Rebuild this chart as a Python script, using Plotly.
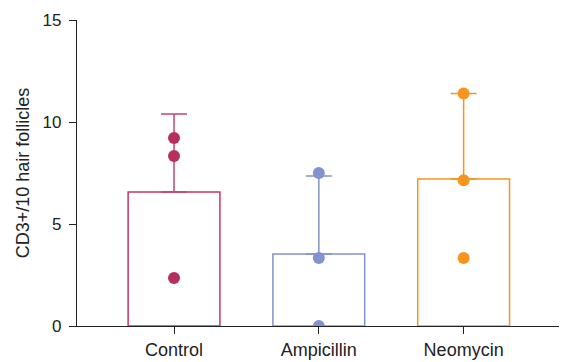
import plotly.graph_objects as go

categories = ["Control", "Ampicillin", "Neomycin"]
bar_means = [6.57, 3.53, 7.2]
bar_sd = [3.82, 3.82, 4.2]
points = [
    [9.22, 8.33, 2.35],
    [7.5, 3.33, 0.0],
    [11.4, 7.15, 3.33],
]
line_colors = ["#c8336a", "#8391cc", "#f7941d"]
err_colors = ["#c4466f", "#8391cc", "#f7941d"]
point_colors = ["#b5305a", "#8391cc", "#f7941d"]
y_ticks = [0, 5, 10, 15]

fig = go.Figure()
for i, cat in enumerate(categories):
    fig.add_trace(go.Bar(
        x=[cat], y=[bar_means[i]], width=0.634,
        marker=dict(color="rgba(0,0,0,0)", line=dict(color=line_colors[i], width=1.5)),
        error_y=dict(type="data", symmetric=False, array=[bar_sd[i]], arrayminus=[0],
                     color=err_colors[i], thickness=1.5, width=13),
        showlegend=False,
    ))
for i, cat in enumerate(categories):
    fig.add_trace(go.Scatter(
        x=[cat] * len(points[i]), y=points[i], mode="markers",
        marker=dict(size=12, color=point_colors[i]),
        showlegend=False, cliponaxis=True,
    ))

fig.update_layout(
    width=559, height=354,
    margin=dict(l=69, r=2, t=12, b=36, autoexpand=False),
    plot_bgcolor="white", paper_bgcolor="white",
    barmode="overlay",
    font=dict(family="Liberation Sans, Arial, sans-serif", size=18, color="#222"),
    xaxis=dict(range=[-0.67, 2.7], showline=True, linecolor="#222", linewidth=1.2,
               ticks="outside", ticklen=7, tickcolor="#222", showgrid=False, zeroline=False,
               automargin=False, tickfont=dict(size=18), layer="above traces"),
    yaxis=dict(range=[0, 15], tickvals=y_ticks, showline=True, linecolor="#222", linewidth=1.2,
               ticks="outside", ticklen=7, tickcolor="#222", showgrid=False, zeroline=False,
               automargin=False, ticklabelstandoff=4, tickfont=dict(size=17), layer="above traces",
               title=dict(text="CD3+/10 hair follicles", standoff=8, font=dict(size=18))),
)
fig.write_html("out.html")
